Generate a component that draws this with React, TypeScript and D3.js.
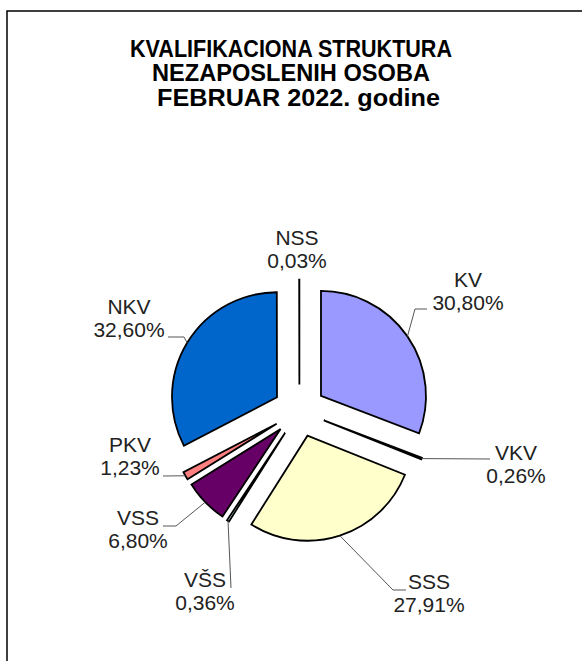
import React from "react";
import * as d3 from "d3";

const categories = ["KV", "VKV", "SSS", "VŠS", "VSS", "PKV", "NKV", "NSS"];
const values = [30.8, 0.26, 27.91, 0.36, 6.8, 1.23, 32.6, 0.03];
const valueLabels = ["30,80%", "0,26%", "27,91%", "0,36%", "6,80%", "1,23%", "32,60%", "0,03%"];
const colors = ["#9999FF", "#993366", "#FFFFCC", "#CCFFFF", "#660066", "#FF8080", "#0066CC", "#CCCCFF"];
const titleLines = ["KVALIFIKACIONA STRUKTURA", "NEZAPOSLENIH OSOBA", "FEBRUAR 2022. godine"];

// title layout: left edge, width, baseline
const titleLayout = [
  { x: 130, w: 322, y: 57 },
  { x: 152, w: 278, y: 81 },
  { x: 157, w: 283, y: 106 },
];

// label layout: text block center x, first baseline y, leader waypoints after the slice anchor
const labelLayout: { x: number; y: number; leader: [number, number][] }[] = [
  { x: 468, y: 287, leader: [[415, 309], [427, 309]] },
  { x: 516, y: 460, leader: [[490, 459]] },
  { x: 429, y: 589, leader: [[393, 590], [406, 590]] },
  { x: 205, y: 587, leader: [[231, 588]] },
  { x: 138, y: 525, leader: [[176, 526], [163, 526]] },
  { x: 130, y: 452, leader: [[163, 476]] },
  { x: 129, y: 314, leader: [[184, 337], [168, 337]] },
  { x: 297, y: 245, leader: [] },
];

const W = 582;
const H = 661;
const cx = 299.4;
const cy = 410.8;
const R = 105;
const EXPLODE = 26.2;
const LINE_GAP = 23;

export default function App() {
  const pie = d3
    .pie<number>()
    .sort(null)
    .value((d) => d)
    .startAngle(0)
    .endAngle(2 * Math.PI);
  const arcs = pie(values);
  const arcGen = d3.arc<d3.PieArcDatum<number>>().innerRadius(0).outerRadius(R);

  return (
    <svg
      width={W}
      height={H}
      style={{ position: "absolute", left: 0, top: 0, background: "#fff" }}
      fontFamily="'Liberation Sans', Arial, sans-serif"
    >
      <rect x={7} y={11} width={W + 20} height={H + 20} fill="#fff" stroke="#000" strokeWidth={1.5} />
      <g fontWeight="bold" fontSize={23.5} fill="#000">
        {titleLines.map((t, i) => (
          <text
            key={i}
            x={titleLayout[i].x}
            y={titleLayout[i].y}
            textLength={titleLayout[i].w}
            lengthAdjust="spacingAndGlyphs"
          >
            {t}
          </text>
        ))}
      </g>
      <g>
        {arcs.map((a, i) => {
          const mid = (a.startAngle + a.endAngle) / 2;
          const dx = EXPLODE * Math.sin(mid);
          const dy = -EXPLODE * Math.cos(mid);
          return (
            <path
              key={i}
              d={arcGen(a) || ""}
              transform={`translate(${cx + dx},${cy + dy})`}
              fill={colors[i]}
              stroke="#000"
              strokeWidth={1.8}
              strokeLinejoin="miter"
            />
          );
        })}
      </g>
      <g fill="none" stroke="#555" strokeWidth={1}>
        {arcs.map((a, i) => {
          const lay = labelLayout[i];
          if (!lay.leader.length) return null;
          const mid = (a.startAngle + a.endAngle) / 2;
          const ax = cx + (EXPLODE + R) * Math.sin(mid);
          const ay = cy - (EXPLODE + R) * Math.cos(mid);
          const pts: [number, number][] = [[ax, ay], ...lay.leader];
          return <path key={i} d={d3.line()(pts) || ""} />;
        })}
      </g>
      <g textAnchor="middle" fontSize={21} fill="#222">
        {categories.map((c, i) => (
          <text key={i} x={labelLayout[i].x} y={labelLayout[i].y}>
            <tspan x={labelLayout[i].x}>{c}</tspan>
            <tspan x={labelLayout[i].x} dy={LINE_GAP}>
              {valueLabels[i]}
            </tspan>
          </text>
        ))}
      </g>
    </svg>
  );
}
